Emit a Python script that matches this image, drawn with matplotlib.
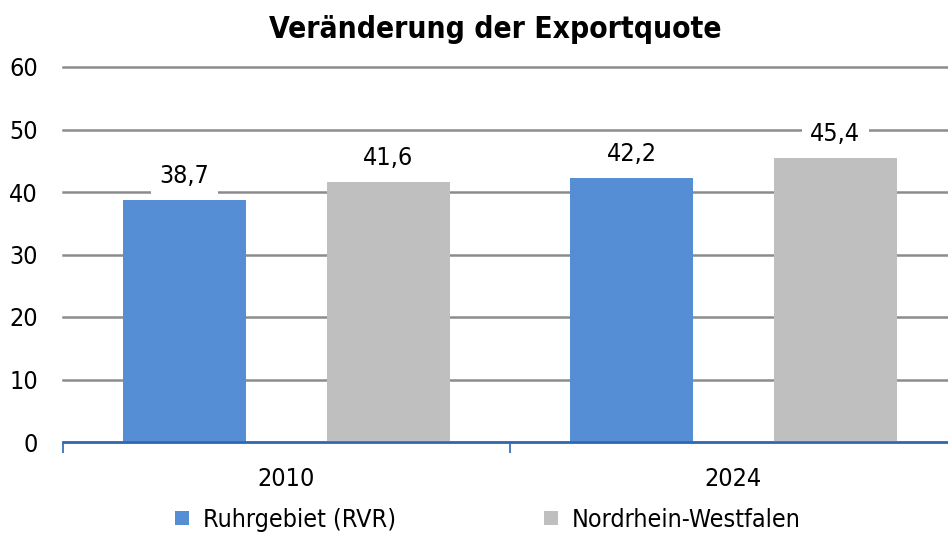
import numpy as np
import matplotlib.pyplot as plt
from matplotlib.patches import Patch

years = ['2010', '2024']
ruhr = [38.7, 42.2]
nrw = [41.6, 45.4]
series_names = ['Ruhrgebiet (RVR)', 'Nordrhein-Westfalen']
colors = ['#558ed5', '#bfbfbf']
yticks = [0, 10, 20, 30, 40, 50, 60]

plt.rcParams['font.family'] = ['DejaVu Sans']
plt.rcParams['font.stretch'] = 'condensed'

fig = plt.figure(figsize=(9.48, 5.33), dpi=100)
ax = fig.add_axes([63/948, 91/533, 894/948, 375/533])

x = np.arange(len(years))
w = 0.277
off = 0.228
b1 = ax.bar(x - off, ruhr, w, color=colors[0], zorder=2)
b2 = ax.bar(x + off, nrw, w, color=colors[1], zorder=2)

# data labels with white box (hides the gridline behind them)
for bars, vals in [(b1, ruhr), (b2, nrw)]:
    for r, v in zip(bars, vals):
        ax.text(r.get_x() + r.get_width()/2, v + 1.9, f'{v:.1f}'.replace('.', ','),
                ha='center', va='bottom', fontsize=18, zorder=3,
                bbox=dict(facecolor='white', edgecolor='none', pad=6))

ax.set_xlim(-0.5, 1.5)
ax.set_ylim(0, 60)
ax.set_yticks(yticks)
ax.yaxis.grid(True, color='#8c8c8c', linewidth=1.8, zorder=0)
for gl in ax.get_ygridlines():
    gl.set_clip_on(False)
ax.set_axisbelow(True)
ax.tick_params(axis='y', length=0, labelsize=18, pad=18)
ax.set_xticks(x)
ax.set_xticklabels(years, fontsize=18)
ax.tick_params(axis='x', length=0, pad=18)
ax.set_xticks([-0.5, 0.5, 1.5], minor=True)
ax.tick_params(axis='x', which='minor', length=8, color='#2c66b0', width=1.2, direction='out')
for s in ['top', 'right', 'left']:
    ax.spines[s].set_visible(False)
ax.spines['bottom'].set_color('#2c66b0')
ax.spines['bottom'].set_linewidth(1.8)

fig.text(495/948, 1 - 30/533, 'Veränderung der Exportquote', ha='center', va='center',
         fontsize=21.5, fontweight='bold')

handles = [Patch(facecolor=c, edgecolor='none') for c in colors]
fig.legend(handles, series_names, loc='center', bbox_to_anchor=(488/948, 1 - 520/533),
           ncol=2, frameon=False, fontsize=18, handlelength=0.56, handleheight=0.52,
           columnspacing=5.9, handletextpad=0.56, borderpad=0)

fig.savefig('out.png', dpi=100)
